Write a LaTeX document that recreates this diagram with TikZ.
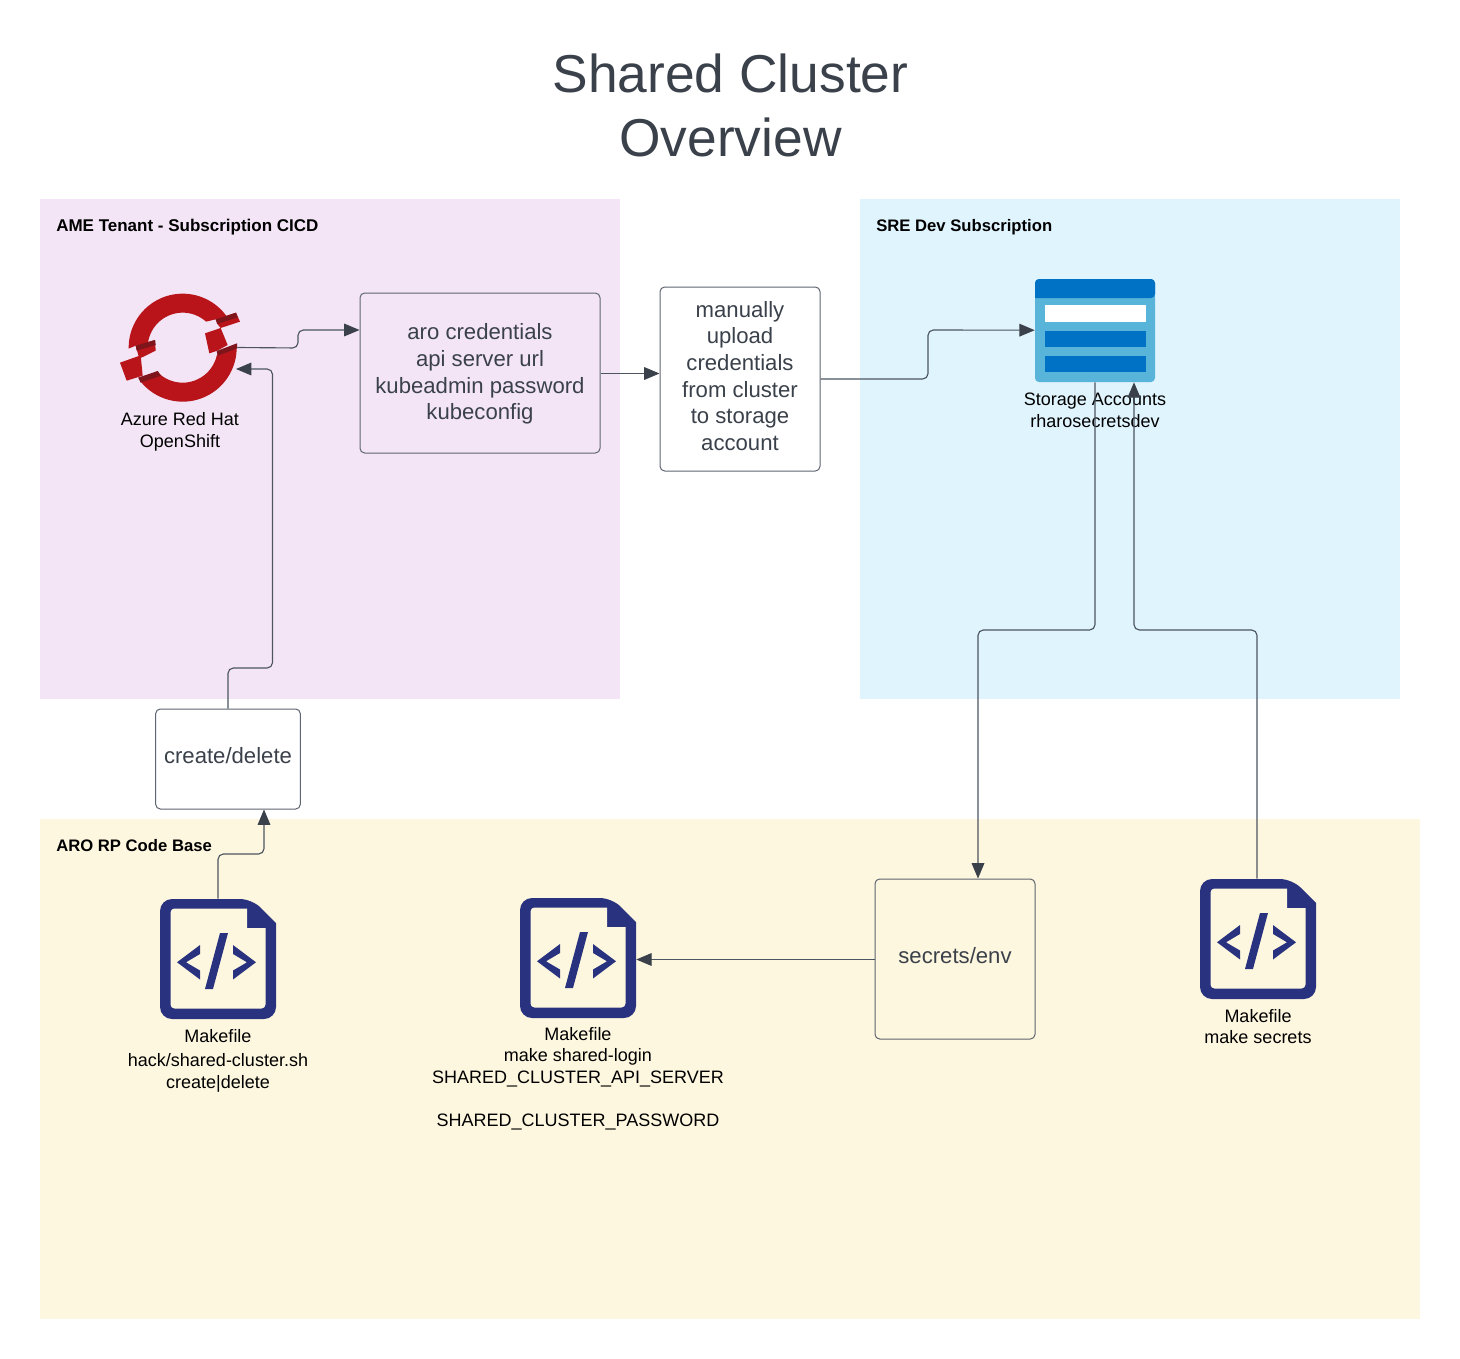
\documentclass[tikz,border=0pt]{standalone}
\usepackage{fontspec}
\setmainfont{Liberation Sans}
\usetikzlibrary{calc,arrows.meta}
\definecolor{ink}{HTML}{3A414A}
\definecolor{edgeg}{HTML}{5E6570}
\definecolor{linec}{HTML}{4C5560}
\definecolor{purplebg}{HTML}{F3E5F6}
\definecolor{bluebg}{HTML}{E0F4FE}
\definecolor{yellowbg}{HTML}{FEF7DF}
\definecolor{navy}{HTML}{29327F}
\definecolor{ocpred}{HTML}{B8141A}
\definecolor{ocpdark}{HTML}{7D151A}
\definecolor{azdark}{HTML}{0072C6}
\definecolor{azlight}{HTML}{59B4D9}
\tikzset{
  region/.style={draw=none,anchor=north west,inner sep=0pt},
  header/.style={anchor=west,inner sep=0pt,font=\fontsize{12.5pt}{16pt}\selectfont\bfseries,text=black},
  flowbox/.style={draw=edgeg,line width=.75pt,rounded corners=3.5pt,fill=white,align=center,text=ink,inner sep=0pt,
    font=\fontsize{16.6pt}{20pt}\selectfont},
  clearbox/.style={flowbox,fill=none},
  boxtext/.style={inner sep=0pt,align=center,text=ink,font=\fontsize{16.6pt}{20pt}\selectfont},
  lbl/.style={align=center,inner sep=0pt,text=black,font=\fontsize{13.5pt}{16.2pt}\selectfont},
  iconbox/.style={draw=none,inner sep=0pt},
  conn/.style={draw=linec,line width=.85pt,rounded corners=4pt},
  arr/.style={conn,-{Triangle[length=11.5pt,width=9.5pt,color=ink]}},
}
\newcommand{\mkicon}[2]{%
  \begin{scope}[shift={(#1,#2)}]
    \fill[navy,rounded corners=9pt] (0,60) -- (0,0) -- (92,0) [sharp corners] -- (116,24) [rounded corners=9pt] -- (116,120) -- (0,120) -- cycle;
    \fill[yellowbg,rounded corners=3pt] (10.5,60) -- (10.5,9.5) [sharp corners] -- (87,9.5) -- (87,29) -- (105.5,29) [rounded corners=3pt] -- (105.5,109.5) -- (10.5,109.5) -- cycle;
    \fill[navy] (17,63.3) -- (40,46) -- (40,55) -- (26,63.3) -- (40,71.5) -- (40,80.5) -- cycle;
    \fill[navy] (96,63.3) -- (73,46) -- (73,55) -- (87,63.3) -- (73,71.5) -- (73,80.5) -- cycle;
    \fill[navy] (60,34) -- (68,34) -- (53,90) -- (45,90) -- cycle;
  \end{scope}}
\begin{document}
\begin{tikzpicture}[x=.75pt,y=-.75pt]
\useasboundingbox (0,0) rectangle (1460,1359);
\fill[white] (0,0) rectangle (1460,1359);
% regions
\node[region,fill=purplebg,minimum width=435pt,minimum height=375pt] (tenant) at (40,199) {};
\node[region,fill=bluebg,minimum width=405pt,minimum height=375pt] (sre) at (860,199) {};
\node[region,fill=yellowbg,minimum width=1035pt,minimum height=375pt] (code) at (40,819) {};
\node[header,font=\fontsize{12.75pt}{16pt}\selectfont\bfseries] (h1) at (56,227) {AME Tenant - Subscription CICD};
\node[header] (h2) at (876,227) {SRE Dev Subscription};
\node[header] (h3) at (56,846) {ARO RP Code Base};
% title
\node[align=center,inner sep=0pt,text=ink,font=\fontsize{40pt}{48pt}\selectfont] (title) at (730.5,105) {Shared Cluster\\Overview};
% boxes
\node[clearbox,minimum width=180pt,minimum height=120pt] (aro) at (480,373) {};
\node[boxtext] (arot) at (480,374) {aro credentials\\api server url\\kubeadmin password\\kubeconfig};
\node[flowbox,minimum width=120pt,minimum height=138pt] (manual) at (740,379) {};
\node[boxtext] (manualt) at (740,376) {manually\\upload\\credentials\\from cluster\\to storage\\account};
\node[flowbox,minimum width=108.5pt,minimum height=75pt] (create) at (228,759) {};
\node[boxtext] (createt) at (228,756) {create/delete};
\node[clearbox,minimum width=120pt,minimum height=120pt] (secrets) at (955,959) {};
\node[boxtext] (secretst) at (955,956) {secrets/env};
% OpenShift logo
\node[iconbox,minimum width=90pt,minimum height=82pt] (ocp) at (180,347.5) {};
\begin{scope}[shift={(100,280)},x=.25pt,y=-.25pt]
  \fill[ocpred] plot[domain=181:36,samples=50] ({248+162*cos(\x)},{203-162*sin(\x)})
     -- (408,98) -- (420,125) -- (362,144) -- (352,132) -- (347,118) -- (318,125)
     -- plot[domain=48:172,samples=40] ({248+105*cos(\x)},{203-105*sin(\x)}) -- (107,197) -- cycle;
  \fill[ocpred] (315,160) -- (362,144) -- (383,195) -- (352,212) -- (328,220) -- cycle;
  \fill[ocpred] plot[domain=2:-141,samples=60] ({248+162*cos(\x)},{203-162*sin(\x)})
     -- (115,293) -- (175,275)
     -- plot[domain=-135:-12,samples=40] ({248+105*cos(\x)},{203-105*sin(\x)}) -- cycle;
  \fill[ocpred] (60,248) -- (122,226) -- (128,287) -- (80,302) -- cycle;
  \fill[ocpred] (107,197) -- (165,180) -- (167,212) -- (118,236) -- cycle;
  \fill[ocpdark] (347,118) -- (408,98) -- (413,112) -- (352,132) -- cycle;
  \fill[ocpdark] (350,213) -- (411,190) -- (412,205) -- (353,227) -- cycle;
  \fill[ocpdark] (107,197) -- (165,180) -- (167,195) -- (110,212) -- cycle;
  \fill[ocpdark] (115,293) -- (173,273) -- (183,287) -- (122,308) -- cycle;
\end{scope}
\node[lbl,font=\fontsize{13.5pt}{16.3pt}\selectfont] (ocpl) at (180,432) {Azure Red Hat\\OpenShift};
% storage icon
\node[iconbox,minimum width=90pt,minimum height=77.25pt] (st) at (1095,330.5) {};
\fill[azlight,rounded corners=3pt] (1035,290) -- (1035,279) -- (1155,279) -- (1155,382) -- (1035,382) -- cycle;
\fill[azdark,rounded corners=3pt] (1035,298) -- (1035,279) -- (1155,279) -- (1155,298) [sharp corners] -- cycle;
\fill[white] (1044.5,305) rectangle (1145.5,322);
\fill[azdark] (1044.5,330.5) rectangle (1145.5,347);
\fill[azdark] (1044.5,355.7) rectangle (1145.5,372);
\node[lbl] (stl) at (1095,410.5) {Storage Accounts\\rharosecretsdev};
% makefile icons
\node[iconbox,minimum width=87pt,minimum height=90pt] (mk1) at (218,959) {};
\mkicon{160}{899}
\node[iconbox,minimum width=87pt,minimum height=90pt] (mk2) at (578,958) {};
\mkicon{520}{898}
\node[iconbox,minimum width=87pt,minimum height=90pt] (mk3) at (1258,939) {};
\mkicon{1200}{879}
\node[lbl,anchor=north] (mk1l) at (218,1029) {Makefile\\[2pt]hack/shared-cluster.sh\\create|delete};
\node[lbl,anchor=north] (mk2l) at (578,1027) {Makefile\\make shared-login\\SHARED\_CLUSTER\_API\_SERVER\\[16pt]SHARED\_CLUSTER\_PASSWORD};
\node[lbl,anchor=north] (mk3l) at (1258,1009) {Makefile\\make secrets};
% connectors
\draw[arr] ($(ocp.east)+(-3,0)$) -- (298,348) -- (298,330) -- ($(aro.west)+(0,-43)$);
\draw[arr] ($(aro.east)+(0,.5)$) -- ($(manual.west |- aro.east)+(0,.5)$);
\draw[arr] (manual.east) -- (928,379) -- (928,330) -- ($(st.west)+(0,-.3)$);
\draw[arr] (st.south) -- (1095,630) -- (978,630) -- ($(secrets.north)+(23,0)$);
\draw[arr] ($(mk3.north)+(-1,0)$) -- (1257,630) -- (1134,630) -- ($(st.south)+(39,0)$);
\draw[arr] (create.north) -- (228,668) -- (272.5,668) -- (272.5,369) -- (236,369);
\draw[arr] (mk1.north) -- (218,854) -- (264,854) -- ($(create.south)+(36,0)$);
\draw[arr] ($(secrets.west)+(0,.5)$) -- ($(mk2.east |- secrets.west)+(0,.5)$);
\end{tikzpicture}
\end{document}
